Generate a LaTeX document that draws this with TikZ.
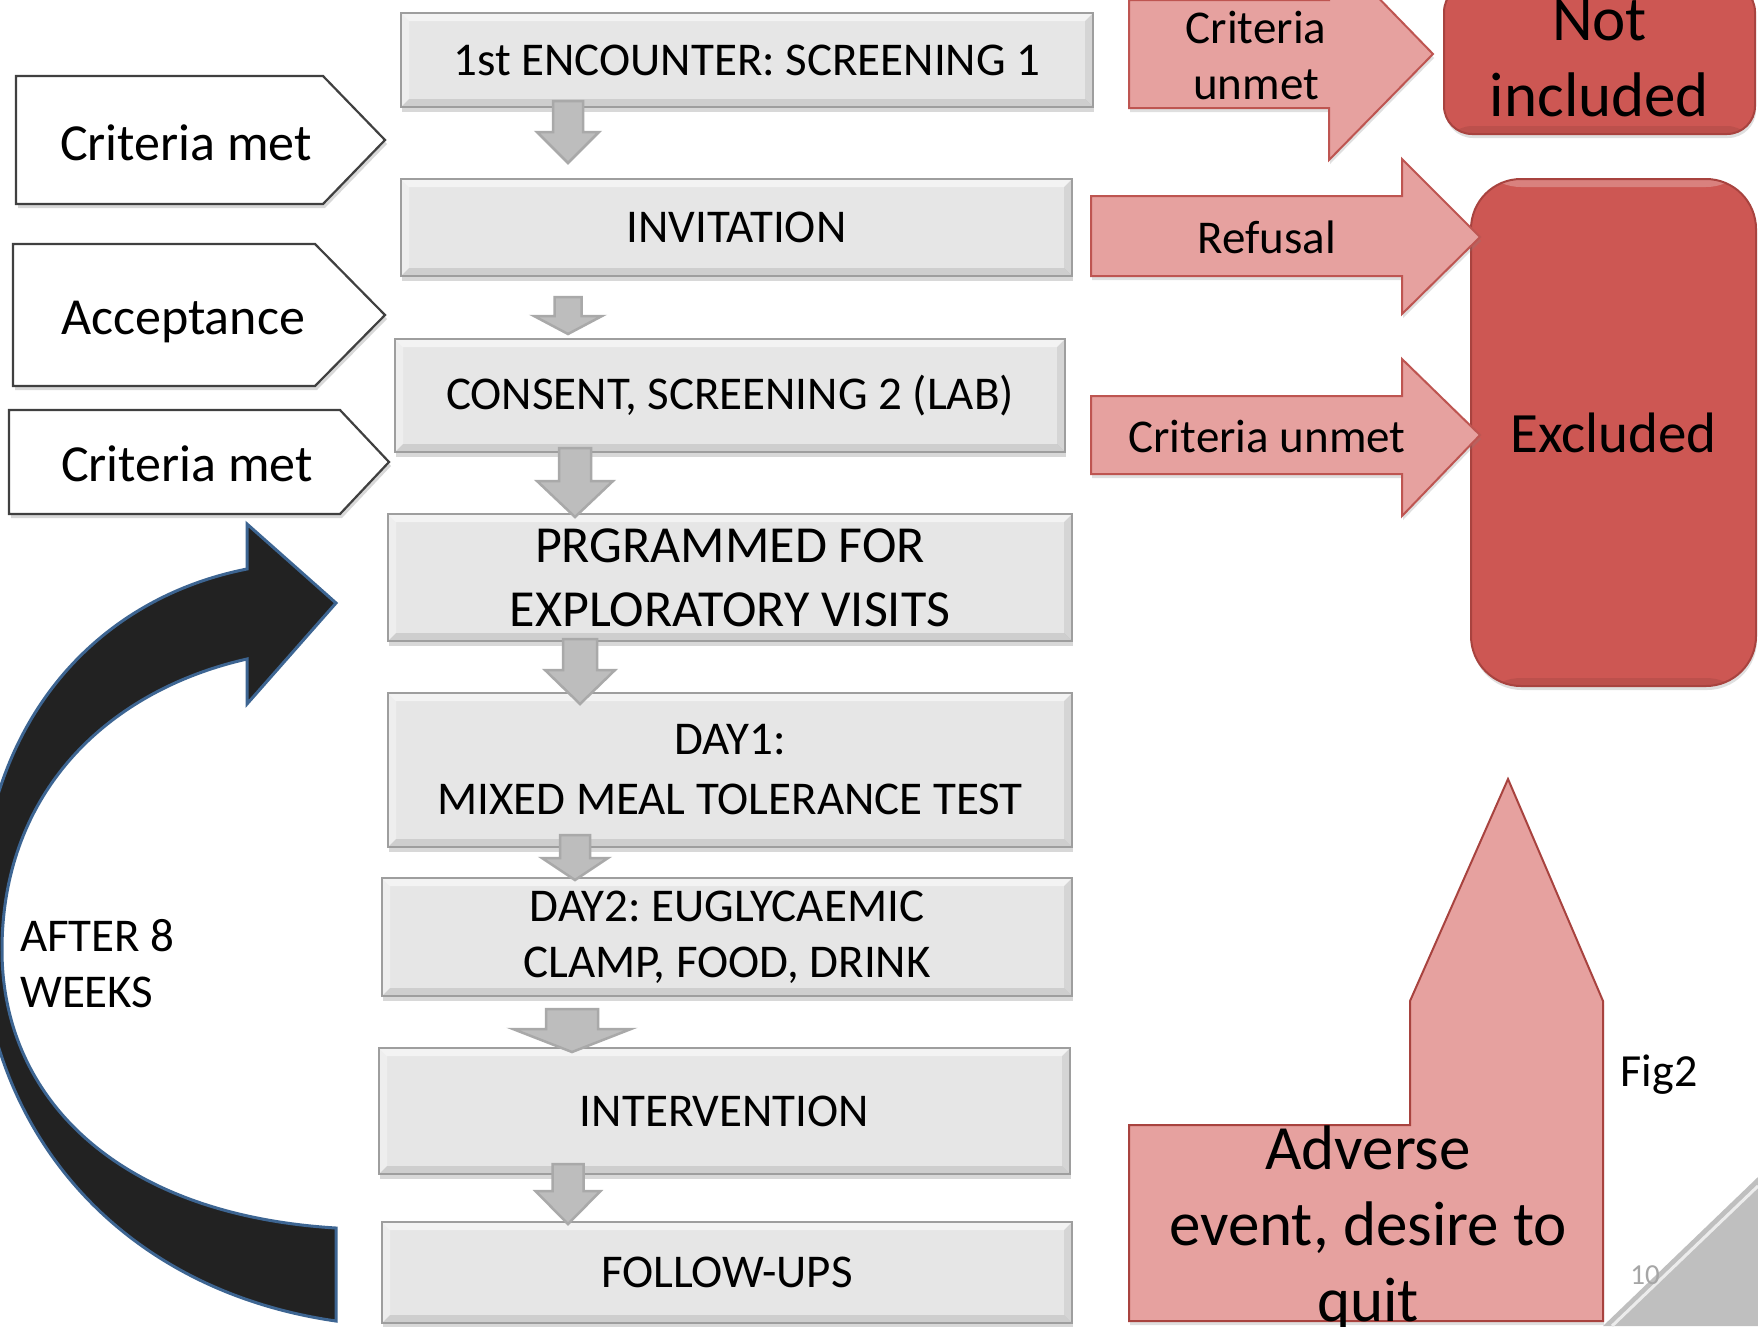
\documentclass[tikz,border=0pt]{standalone}
\usepackage{fontspec}
\setmainfont{Carlito}
\usetikzlibrary{shadows}
\definecolor{boxfill}{HTML}{E6E6E6}
\definecolor{boxedge}{HTML}{9E9E9E}
\definecolor{garrfill}{HTML}{BDBDBD}
\definecolor{garredge}{HTML}{A9A9A9}
\definecolor{pinkfill}{HTML}{E6A19F}
\definecolor{pinkedge}{HTML}{BE5551}
\definecolor{redfill}{HTML}{CD5753}
\definecolor{rededge}{HTML}{A8433F}
\definecolor{darkarr}{HTML}{222222}
\definecolor{bluedge}{HTML}{3D6592}
\definecolor{pagegray}{HTML}{BFBFBF}
\definecolor{numgray}{HTML}{A6A6A6}
\newcommand\myfs[2]{\fontsize{#1pt}{#2pt}\selectfont}
\newcommand\garrow[6]{% cx, ytop, yhead, ytip, shaft half, head half
  \filldraw[garr] (#1-#5,#2) -- (#1+#5,#2) -- (#1+#5,#3) -- (#1+#6,#3) -- (#1,#4) -- (#1-#6,#3) -- (#1-#5,#3) -- cycle;}
\newcommand\rarrow[8]{% x0, xb, xtip, yb0, yb1, yh0, yh1, ytip
  \filldraw[parr] (#1,#4) -- (#2,#4) -- (#2,#6) -- (#3,#8) -- (#2,#7) -- (#2,#5) -- (#1,#5) -- cycle;}
\frenchspacing
\begin{document}
\begin{tikzpicture}[x=1pt,y=-1pt,
  bevel/.style={path picture={
    \fill[white,opacity=.55] (path picture bounding box.north west) -- (path picture bounding box.north east)
      -- ([xshift=-8pt,yshift=-8pt]path picture bounding box.north east) -- ([xshift=8pt,yshift=-8pt]path picture bounding box.north west) -- cycle;
    \fill[white,opacity=.35] (path picture bounding box.north west) -- (path picture bounding box.south west)
      -- ([xshift=8pt,yshift=8pt]path picture bounding box.south west) -- ([xshift=8pt,yshift=-8pt]path picture bounding box.north west) -- cycle;
    \fill[black,opacity=.10] (path picture bounding box.south west) -- (path picture bounding box.south east)
      -- ([xshift=-8pt,yshift=8pt]path picture bounding box.south east) -- ([xshift=8pt,yshift=8pt]path picture bounding box.south west) -- cycle;
    \fill[black,opacity=.07] (path picture bounding box.north east) -- (path picture bounding box.south east)
      -- ([xshift=-8pt,yshift=8pt]path picture bounding box.south east) -- ([xshift=-8pt,yshift=-8pt]path picture bounding box.north east) -- cycle;
  }},
  softbevel/.style={path picture={
    \fill[white,opacity=.25] (path picture bounding box.north west) rectangle ([yshift=-8pt]path picture bounding box.north east);
    \fill[black,opacity=.08] (path picture bounding box.south west) rectangle ([yshift=8pt]path picture bounding box.south east);
  }},
  graybox/.style={draw=boxedge, line width=1.8pt, fill=boxfill, inner sep=0pt, align=center,
    font=\myfs{47}{56}, drop shadow={shadow xshift=1pt, shadow yshift=-5pt, opacity=.3}, bevel},
  garr/.style={fill=garrfill, draw=garredge, line width=2.5pt, line join=miter},
  warr/.style={fill=white, draw=black!75, line width=2.2pt, line join=miter,
    drop shadow={shadow xshift=2pt, shadow yshift=-4pt, opacity=.3}},
  parr/.style={fill=pinkfill, draw=pinkedge, line width=2pt, line join=miter,
    drop shadow={shadow xshift=1pt, shadow yshift=-4pt, opacity=.25}},
  redbox/.style={fill=redfill, draw=rededge, line width=2pt, inner sep=0pt, align=center,
    drop shadow={shadow xshift=1pt, shadow yshift=-4pt, opacity=.25}, softbevel},
  curvarr/.style={fill=darkarr, draw=bluedge, line width=3pt, line join=miter},
  lbl/.style={inner sep=0pt, align=center},
]
\useasboundingbox (0,0) rectangle (1758,1326);
\fill[white] (0,0) rectangle (1758,1326);
\clip (0,0) rectangle (1758,1326);

% curved return arrow
\filldraw[curvarr] (336,1321) .. controls (120,1290) and (-20,1130) .. (-20,920)
  .. controls (-20,730) and (90,600) .. (247,569) -- (247,524) -- (336,603) -- (247,704) -- (247,659)
  .. controls (110,690) and (2,790) .. (2,950) .. controls (2,1100) and (120,1215) .. (336,1228) -- cycle;
\node[lbl, anchor=west, align=left, font=\myfs{47}{56}] (after) at (20,964) {AFTER 8\\WEEKS};

% left pentagon arrows
\filldraw[warr] (16,76) -- (323,76) -- (385,140) -- (323,204) -- (16,204) -- cycle;
\node[lbl, anchor=base, font=\myfs{52}{62}] (cm1) at (186,160) {Criteria met};
\filldraw[warr] (13,244) -- (315,244) -- (385,315) -- (315,386) -- (13,386) -- cycle;
\node[lbl, anchor=base, font=\myfs{52}{62}] (acc) at (183,334) {Acceptance};
\filldraw[warr] (9,410) -- (340,410) -- (389,462) -- (340,514) -- (9,514) -- cycle;
\node[lbl, anchor=base, font=\myfs{52}{62}] (cm2) at (187,481) {Criteria met};

% main boxes
\node[graybox, minimum width=692pt, minimum height=94pt] (b1) at (747,60) {1st ENCOUNTER: SCREENING 1};
\node[graybox, minimum width=671pt, minimum height=97pt] (b2) at (736.5,227.5) {INVITATION};
\node[graybox, minimum width=670pt, minimum height=113pt] (b3) at (730,395.5) {CONSENT, SCREENING 2 (LAB)};
\node[graybox, minimum width=684pt, minimum height=127pt, font=\myfs{52}{64}] (b4) at (730,577.5) {PRGRAMMED FOR\\EXPLORATORY VISITS};
\node[graybox, minimum width=684pt, minimum height=154pt, font=\myfs{47}{60}] (b5) at (730,770) {DAY1:\\MIXED MEAL TOLERANCE TEST};
\node[graybox, minimum width=690pt, minimum height=118pt] (b6) at (727,937) {DAY2: EUGLYCAEMIC\\CLAMP, FOOD, DRINK};
\node[graybox, minimum width=691pt, minimum height=126pt] (b7) at (724.5,1111) {INTERVENTION};
\node[graybox, minimum width=690pt, minimum height=101pt] (b8) at (727,1272.5) {FOLLOW-UPS};

% gray block arrows between boxes
\garrow{568}{101}{132}{163}{15}{31}
\garrow{568}{297}{316}{334}{13.5}{34}
\garrow{575}{448}{481}{517}{16}{38}
\garrow{580}{639}{670}{704}{17}{35}
\garrow{575}{835}{858}{880}{15}{33}
\garrow{572}{1009}{1029}{1052}{26}{59}
\garrow{568}{1164}{1191}{1224}{15.5}{32.5}

% red end boxes
\node[redbox, minimum width=311pt, minimum height=150pt, rounded corners=28pt, font=\myfs{63}{76}] (ni) at (1599.5,59) {Not\\included};
\node[redbox, minimum width=285pt, minimum height=507pt, rounded corners=50pt, font=\myfs{57}{68}] (ex) at (1613.5,432.5) {Excluded};

% pink exit arrows
\rarrow{1129}{1329}{1433}{0}{108}{-53}{160}{54}
\node[lbl, font=\myfs{47}{56}] (cu1) at (1256,55) {Criteria\\unmet};
\rarrow{1091}{1402}{1480}{196}{276}{159}{314}{237}
\node[lbl, anchor=base, font=\myfs{47}{56}] (ref) at (1267,253) {Refusal};
\rarrow{1091}{1402}{1480}{396}{474}{359}{516}{435}
\node[lbl, anchor=base, font=\myfs{47}{56}] (cu2) at (1267,452) {Criteria unmet};

% page corner
\fill[pagegray] (1603,1326) -- (1758,1177) -- (1758,1326) -- cycle;
\draw[white!85!gray, line width=3pt] (1612,1326) -- (1758,1186);
\node[lbl, anchor=base, text=numgray, font=\myfs{29}{34}] (pg) at (1645,1284) {10};

% adverse event arrow
\filldraw[parr, draw=rededge] (1129,1125) -- (1410,1125) -- (1410,1001) -- (1508,779) -- (1603,1001) -- (1603,1321) -- (1129,1321) -- cycle;
\node[lbl, font=\myfs{63}{76}] (adv) at (1368,1229) {Adverse\\event, desire to\\quit};
\node[lbl, anchor=base, font=\myfs{46}{55}] (fig) at (1659,1086) {Fig2};
\end{tikzpicture}
\end{document}
